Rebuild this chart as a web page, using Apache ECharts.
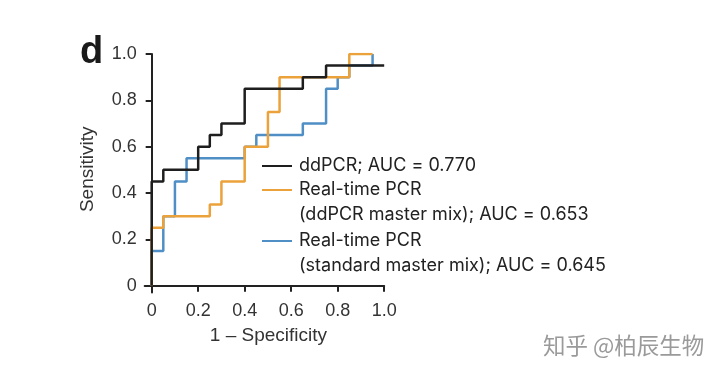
<!DOCTYPE html>
<html>
<head>
<meta charset="utf-8">
<script src="https://cdn.jsdelivr.net/npm/echarts@6/dist/echarts.min.js"></script>
<style>
  html, body { margin: 0; padding: 0; background: #fff; }
  #chart { width: 720px; height: 375px; }
</style>
</head>
<body>
<div id="chart"></div>
<script>
// ROC operating points (1 - specificity, sensitivity)
let ddpcrPoints = [[0, 0], [0, 0.45], [0.05, 0.5], [0.2, 0.6], [0.25, 0.65], [0.3, 0.7], [0.4, 0.85], [0.65, 0.9], [0.75, 0.95], [1.0, 0.95]]
let rtDdMixPoints = [[0, 0], [0, 0.25], [0.05, 0.3], [0.25, 0.35], [0.3, 0.45], [0.4, 0.6], [0.5, 0.75], [0.55, 0.9], [0.85, 1.0], [0.95, 1.0]]
let rtStdMixPoints = [[0, 0], [0, 0.15], [0.05, 0.3], [0.1, 0.45], [0.15, 0.55], [0.4, 0.6], [0.45, 0.65], [0.65, 0.7], [0.75, 0.85], [0.8, 0.9], [0.85, 0.95], [0.95, 1.0]]
let tickValues = [0, 0.2, 0.4, 0.6, 0.8, 1.0]
let legendLines = [
  ['ddPCR; AUC = 0.770'],
  ['Real-time PCR', '(ddPCR master mix); AUC = 0.653'],
  ['Real-time PCR', '(standard master mix); AUC = 0.645']
]

let blackColor = '#1e1e1e'
let orangeColor = '#eba23b'
let blueColor = '#4f8fc6'
let axisColor = '#222'
let labelFont = 'Liberation Sans'
let legendFont = 'Inter'

let chart = echarts.init(document.getElementById('chart'))

function tickLabel(v) {
  return v === 0 ? '0' : v.toFixed(1)
}

function axisCommon() {
  return {
    type: 'value',
    min: -0.03,
    max: 1,
    splitLine: { show: false },
    axisLine: { show: true, onZero: true, lineStyle: { color: axisColor, width: 2 } },
    axisTick: { show: true, length: 6, customValues: tickValues, lineStyle: { color: axisColor, width: 2 } },
    axisLabel: {
      customValues: tickValues,
      formatter: tickLabel,
      color: '#333',
      fontSize: 18,
      fontFamily: labelFont
    },
    nameLocation: 'middle',
    nameTextStyle: { color: '#333', fontSize: 19, fontFamily: labelFont, padding: [0, 0, 0, 8] }
  }
}

let xAxis = axisCommon()
xAxis.name = '1 \u2013 Specificity'
xAxis.nameGap = 34
xAxis.axisLabel.margin = 9

let yAxis = axisCommon()
yAxis.name = 'Sensitivity'
yAxis.nameGap = 47
yAxis.axisLabel.margin = 8

// legend drawn as graphics so the key line sits on the first text line
let legendColors = [blackColor, orangeColor, blueColor]
let legendTop = [166, 190, 241]
let legendGraphics = []
legendLines.forEach(function (lines, i) {
  let y = legendTop[i]
  legendGraphics.push({
    type: 'line',
    shape: { x1: 262, y1: y, x2: 292, y2: y },
    style: { stroke: legendColors[i], lineWidth: 2 }
  })
  lines.forEach(function (txt, j) {
    legendGraphics.push({
      type: 'text',
      x: 299,
      y: y + j * 24.5,
      style: {
        text: txt,
        fill: '#222',
        fontSize: 18,
        fontFamily: legendFont,
        textVerticalAlign: 'middle'
      }
    })
  })
})

const options = {
  animation: false,
  grid: {
    left: 144.7,
    right: 335.8,
    top: 54,
    bottom: 82.4
  },
  xAxis: xAxis,
  yAxis: yAxis,
  series: [
    {
      name: 'Real-time PCR (standard master mix)',
      type: 'line',
      step: 'end',
      data: rtStdMixPoints,
      showSymbol: false,
      lineStyle: { color: blueColor, width: 2.5 },
      z: 2
    },
    {
      name: 'Real-time PCR (ddPCR master mix)',
      type: 'line',
      step: 'end',
      data: rtDdMixPoints,
      showSymbol: false,
      lineStyle: { color: orangeColor, width: 2.5 },
      z: 3
    },
    {
      name: 'ddPCR',
      type: 'line',
      step: 'end',
      data: ddpcrPoints,
      showSymbol: false,
      lineStyle: { color: blackColor, width: 2.5 },
      z: 4
    }
  ],
  graphic: [
    {
      type: 'text',
      x: 80,
      y: 53,
      style: {
        text: 'd',
        fill: '#1a1a1a',
        fontSize: 38,
        fontWeight: 'bold',
        fontFamily: labelFont,
        textVerticalAlign: 'middle'
      }
    },
    {
      type: 'text',
      x: 543,
      y: 345,
      style: {
        text: '知乎 @柏辰生物',
        fill: '#9a9a9a',
        fontSize: 22.5,
        fontFamily: 'Noto Sans CJK SC',
        textVerticalAlign: 'middle'
      }
    }
  ].concat(legendGraphics)
}

chart.setOption(options)
</script>
</body>
</html>
